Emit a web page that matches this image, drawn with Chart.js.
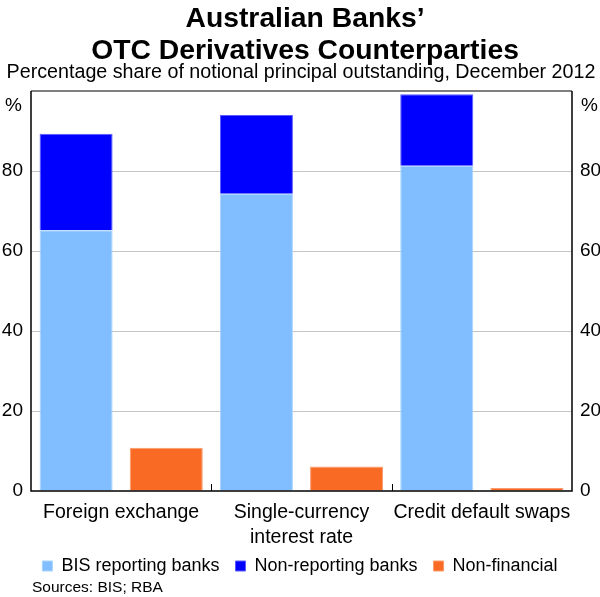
<!DOCTYPE html>
<html>
<head>
<meta charset="utf-8">
<script src="https://cdn.jsdelivr.net/npm/chart.js@4.4.1/dist/chart.umd.min.js"></script>
<style>
  html, body { margin: 0; padding: 0; background: #fff; }
  #wrap { width: 600px; height: 597px; }
</style>
</head>
<body>
<div id="wrap"><canvas id="myChart" width="600" height="597"></canvas></div>
<script>
// chart data
const categories = ["Foreign exchange", ["Single-currency", "interest rate"], "Credit default swaps"];
const bisReporting = [65.2, 74.3, 81.3];
const nonReporting = [24.1, 19.7, 17.9];
const nonFinancial = [10.8, 6.1, 0.75];
const yTicks = [0, 20, 40, 60, 80, 100];

const FONT = "'Liberation Sans', Arial, Helvetica, sans-serif";

// titles, units, frame, category ticks and sources
const decorations = {
  id: "decorations",
  afterDatasetsDraw(chart) {
    const { ctx, chartArea: a, scales } = chart;
    ctx.save();
    // frame
    ctx.lineWidth = 1.5;
    ctx.strokeStyle = "#555";
    ctx.beginPath();
    ctx.moveTo(a.left, a.top);
    ctx.lineTo(a.right, a.top);
    ctx.stroke();
    ctx.strokeStyle = "#000";
    ctx.beginPath();
    ctx.moveTo(a.left, a.top);
    ctx.lineTo(a.left, a.bottom);
    ctx.lineTo(a.right, a.bottom);
    ctx.lineTo(a.right, a.top);
    ctx.stroke();
    // small ticks between categories
    ctx.lineWidth = 1;
    const x = scales.x;
    for (let i = 0; i < categories.length - 1; i++) {
      const px = Math.round((x.getPixelForValue(i) + x.getPixelForValue(i + 1)) / 2) + 0.5;
      ctx.beginPath();
      ctx.moveTo(px, a.bottom);
      ctx.lineTo(px, a.bottom - 7);
      ctx.stroke();
    }
    ctx.restore();
  },
  afterDraw(chart) {
    const { ctx } = chart;
    ctx.save();
    ctx.fillStyle = "#000";
    ctx.textAlign = "center";
    ctx.textBaseline = "alphabetic";
    ctx.font = "bold 28.3px " + FONT;
    ctx.fillText("Australian Banks\u2019", 305, 27);
    ctx.fillText("OTC Derivatives Counterparties", 305, 59);
    ctx.font = "19.7px " + FONT;
    ctx.fillText("Percentage share of notional principal outstanding, December 2012", 301, 78);
    ctx.font = "19px " + FONT;
    ctx.textAlign = "right";
    ctx.fillText("%", 22, 111);
    ctx.textAlign = "left";
    ctx.fillText("%", 581, 111);
    ctx.font = "15.5px " + FONT;
    ctx.fillText("Sources: BIS; RBA", 32, 592);
    ctx.restore();
  },
};

const ctx = document.getElementById("myChart").getContext("2d");
const myChart = new Chart(ctx, {
  type: "bar",
  data: {
    labels: categories,
    datasets: [
      {
        label: "BIS reporting banks",
        data: bisReporting,
        stack: "banks",
        backgroundColor: "#80BEFF",
        borderColor: "#A9D3FF",
        borderWidth: 1,
      },
      {
        label: "Non-reporting banks",
        data: nonReporting,
        stack: "banks",
        backgroundColor: "#0000FF",
        borderColor: "#5A5AFF",
        borderWidth: 1,
      },
      {
        label: "Non-financial",
        data: nonFinancial,
        stack: "other",
        backgroundColor: "#F96A24",
        borderColor: "#FB9A6A",
        borderWidth: 1,
      },
    ],
  },
  options: {
    responsive: false,
    animation: false,
    devicePixelRatio: 1,
    categoryPercentage: 1.0,
    barPercentage: 0.81,
    layout: { padding: { top: 91, left: 0, right: 0, bottom: 12 } },
    plugins: {
      title: { display: false },
      tooltip: { enabled: false },
      legend: {
        position: "bottom",
        labels: {
          boxWidth: 10,
          boxHeight: 10,
          padding: 16,
          color: "#000",
          font: { family: FONT, size: 18 },
        },
      },
    },
    scales: {
      x: {
        stacked: true,
        grid: { display: false, drawTicks: false },
        border: { display: false },
        ticks: {
          color: "#000",
          font: { family: FONT, size: 19.5, lineHeight: 1.24 },
          padding: 10,
          maxRotation: 0,
          autoSkip: false,
        },
        afterFit(scale) {
          scale.height = 50;
          // let the two-line label run past the axis box
          scale._computeLabelArea = () => undefined;
        },
      },
      y: {
        stacked: true,
        position: "left",
        min: 0,
        max: 100,
        afterBuildTicks(scale) { scale.ticks = yTicks.map(v => ({ value: v })); },
        grid: {
          drawTicks: false,
          lineWidth: 1,
          color: c => (c.tick.value === 0 || c.tick.value === 100 ? "rgba(0,0,0,0)" : "#c4c4c4"),
        },
        border: { display: false },
        ticks: {
          color: "#000",
          font: { family: FONT, size: 19 },
          padding: 8,
          callback: v => (v === 100 ? "" : v),
        },
        afterFit(scale) { scale.width = 31; },
      },
      y2: {
        position: "right",
        min: 0,
        max: 100,
        afterBuildTicks(scale) { scale.ticks = yTicks.map(v => ({ value: v })); },
        grid: { display: false, drawTicks: false },
        border: { display: false },
        ticks: {
          color: "#000",
          font: { family: FONT, size: 19 },
          padding: 8,
          callback: v => (v === 100 ? "" : v),
        },
        afterFit(scale) { scale.width = 28; },
      },
    },
  },
  plugins: [decorations],
});
</script>
</body>
</html>
